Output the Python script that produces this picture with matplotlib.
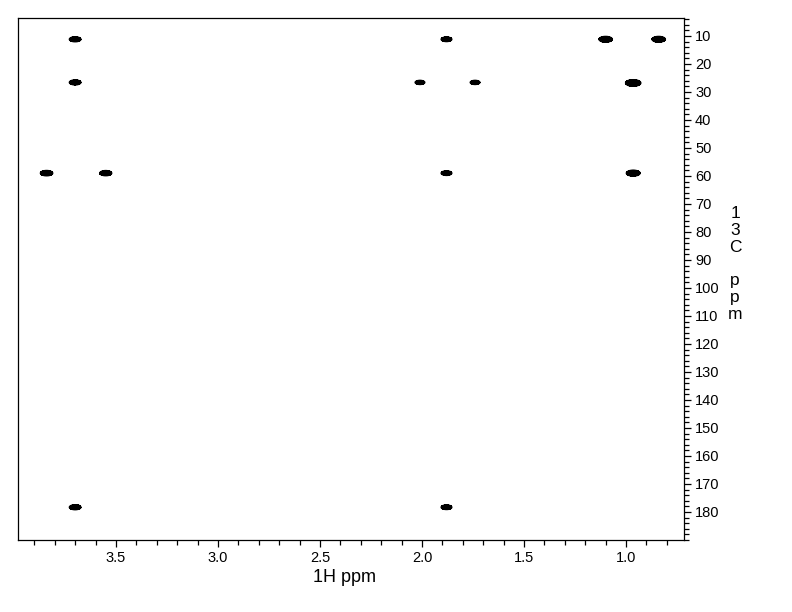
import numpy as np
import matplotlib.pyplot as plt
from matplotlib.ticker import MultipleLocator

plt.rcParams['font.family'] = ['Liberation Sans', 'DejaVu Sans']

# HSQC/HMBC style cross peaks: 1H shift, 13C shift, relative intensity
h_shift = [3.70, 3.70, 3.70, 3.84, 3.55, 1.88, 1.88, 1.88, 2.01, 1.74, 1.10, 0.84, 0.965, 0.965]
c_shift = [11.2, 26.6, 178.3, 59.0, 59.0, 11.2, 59.0, 178.3, 26.6, 26.6, 11.2, 11.2, 26.8, 59.0]
intensity = [3.0, 3.0, 3.0, 4.0, 3.5, 2.2, 2.2, 2.2, 1.6, 1.6, 6.0, 6.0, 14.0, 7.0]

x = np.linspace(0.70, 4.0, 1400)
y = np.linspace(3.0, 191.0, 1400)
X, Y = np.meshgrid(x, y)
Z = np.zeros_like(X)
for h, c, a in zip(h_shift, c_shift, intensity):
    Z += a * np.exp(-((X - h) ** 2) / (2 * 0.014 ** 2) - ((Y - c) ** 2) / (2 * 0.45 ** 2))

fig = plt.figure(figsize=(7.92, 6.12), dpi=100)
ax = fig.add_axes([18 / 792, 72 / 612, 666 / 792, 522 / 612])

ax.contourf(X, Y, Z, levels=[0.35, 1e6], colors='black')
ax.contour(X, Y, Z, levels=[0.35, 0.8, 1.6, 3.2, 6.4], colors='black', linewidths=0.8)

ax.set_xlim(3.98, 0.716)
ax.set_ylim(190, 3.6)

for s in ax.spines.values():
    s.set_linewidth(0.9)
ax.yaxis.tick_right()

ax.xaxis.set_major_locator(MultipleLocator(0.5))
ax.xaxis.set_minor_locator(MultipleLocator(0.1))
ax.yaxis.set_major_locator(MultipleLocator(10))
ax.yaxis.set_minor_locator(MultipleLocator(2))
ax.tick_params(which='major', direction='out', length=5, width=0.9, labelsize=10.5, pad=3)
ax.tick_params(which='minor', direction='out', length=3.5, width=0.9)
ax.tick_params(axis='y', which='both', left=False, right=True)
ax.tick_params(axis='x', which='both', top=False, bottom=True)

ax.set_xticks([3.5, 3.0, 2.5, 2.0, 1.5, 1.0])
ax.set_xticklabels(['3.5', '3.0', '2.5', '2.0', '1.5', '1.0'])
ax.set_yticks(np.arange(10, 181, 10))

ax.set_xlabel('1H ppm', fontsize=13)
ax.xaxis.set_label_coords(0.49, -0.055)
fig.text(735 / 792, 1 - 264 / 612, '1\n3\nC\n\np\np\nm', fontsize=12.5,
         ha='center', va='center', linespacing=1.15)

fig.savefig('out.png', dpi=100)
